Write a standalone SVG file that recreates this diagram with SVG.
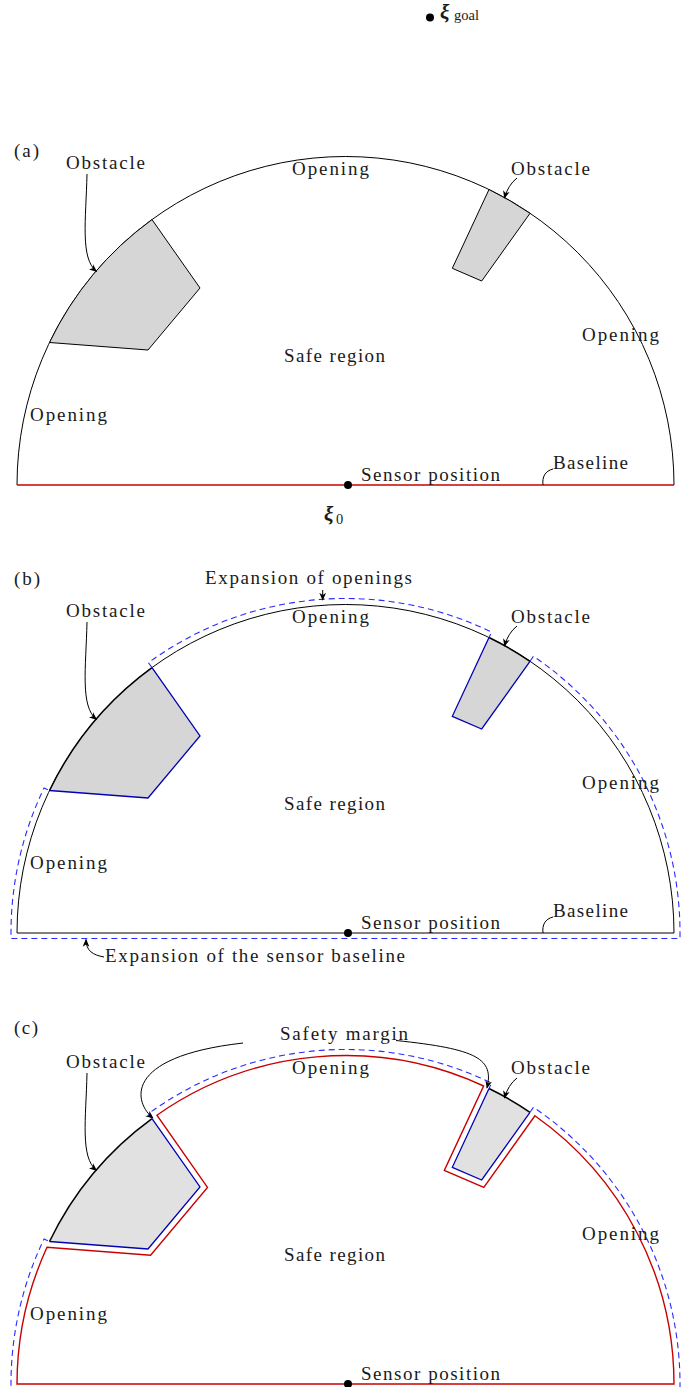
<svg xmlns="http://www.w3.org/2000/svg" width="691" height="1387" viewBox="0 0 691 1387">
<style>
text{font-family:"Liberation Serif","Times New Roman",serif;font-size:19px;fill:#1a1a1a}
.math{font-weight:bold;font-style:italic;font-size:21px}
.sub{font-size:14.5px}
.arc{fill:none;stroke:#000;stroke-width:1}
.red{fill:none;stroke:#c80000;stroke-width:1.4}
.obA{fill:#d6d6d6;stroke:#000;stroke-width:1}
.obFill{fill:#d6d6d6;stroke:none}
.obFillC{fill:#e1e1e1;stroke:none}
.obArc{fill:none;stroke:#000;stroke-width:1.5}
.obEdge{fill:none;stroke:#0000b4;stroke-width:1.3}
.dash{fill:none;stroke:#2a2aff;stroke-width:1.1;stroke-dasharray:6 4}
.lead{fill:none;stroke:#000;stroke-width:1}
.arr{marker-end:url(#ah)}
</style>
<defs>
<marker id="ah" viewBox="0 0 10 10" refX="9" refY="5" markerWidth="8" markerHeight="8" orient="auto" markerUnits="userSpaceOnUse">
<path d="M0,0.8 L10,5 L0,9.2 L2.8,5 Z" fill="#000"/>
</marker>
<path id="ob1" d="M 49.5 342.5 A 328.5 328.5 0 0 1 152 219.6 L 200 288 L 148 350 Z"/>
<path id="ob2" d="M 489 189.5 A 328.5 328.5 0 0 1 530 213.3 L 481.7 281 L 452.3 268.3 Z"/>
<path id="ob1arc" d="M 49.5 342.5 A 328.5 328.5 0 0 1 152 219.6"/>
<path id="ob2arc" d="M 489 189.5 A 328.5 328.5 0 0 1 530 213.3"/>
<path id="ob1edge" d="M 152 219.6 L 200 288 L 148 350 L 49.5 342.5"/>
<path id="ob2edge" d="M 530 213.3 L 481.7 281 L 452.3 268.3 L 489 189.5"/>
<path id="expand" d="M 152 219.6 L 148.4 214.7 A 334.5 334.5 0 0 1 491.6 184.1 L 489 189.5 M 530 213.3 L 533.5 208.3 A 334.5 334.5 0 0 1 680 485 L 680 490.5 L 11 490.5 L 11 485 A 334.5 334.5 0 0 1 44.1 339.9 L 49.5 342.5"/>
</defs>

<!-- goal point -->
<g id="goal">
<circle cx="430" cy="17.5" r="4" fill="#000"/>
<text x="440" y="19" class="math">ξ</text><text x="454" y="20" class="sub">goal</text>
</g>

<!-- Panel (a) -->
<g id="panel-a">
<text x="14" y="157" textLength="25" lengthAdjust="spacing">(a)</text>
<g id="a-region"><path class="arc" d="M 17 485 A 328.5 328.5 0 0 1 674 485"/><line class="red" x1="17" y1="485" x2="674" y2="485"/></g>
<g id="a-obstacle1"><use href="#ob1" class="obA"/></g>
<g id="a-obstacle2"><use href="#ob2" class="obA"/></g>
<g id="a-sensor"><circle cx="348" cy="485" r="4" fill="#000"/><text x="361" y="481" textLength="139" lengthAdjust="spacing">Sensor position</text>
<text x="324" y="521" class="math">ξ</text><text x="336" y="524" class="sub">0</text></g>
<g id="a-labels">
<text x="66" y="169" textLength="79" lengthAdjust="spacing">Obstacle</text>
<text x="292" y="175" textLength="77" lengthAdjust="spacing">Opening</text>
<text x="511" y="175" textLength="79" lengthAdjust="spacing">Obstacle</text>
<text x="582" y="341" textLength="77" lengthAdjust="spacing">Opening</text>
<text x="284" y="362" textLength="101" lengthAdjust="spacing">Safe region</text>
<text x="30" y="421" textLength="77" lengthAdjust="spacing">Opening</text>
<text x="553" y="469" textLength="75" lengthAdjust="spacing">Baseline</text>
</g>
<g id="a-connectors">
<path class="lead arr" d="M 87 174 C 86 220, 80 258, 96.5 271.5"/>
<path class="lead arr" d="M 517 178 Q 508 185 504.5 198"/>
<path class="lead" d="M 553 469 C 545 471, 542 477, 543 485"/>
</g>
</g>

<!-- Panel (b) -->
<text x="14" y="585" textLength="26" lengthAdjust="spacing">(b)</text>
<g id="panel-b" transform="translate(0,448)">
<g id="b-region"><path class="arc" d="M 17 485 A 328.5 328.5 0 0 1 674 485 Z"/></g>
<g id="b-obstacle1"><use href="#ob1" class="obFill"/><use href="#ob1arc" class="obArc"/><use href="#ob1edge" class="obEdge"/></g>
<g id="b-obstacle2"><use href="#ob2" class="obFill"/><use href="#ob2arc" class="obArc"/><use href="#ob2edge" class="obEdge"/></g>
<g id="b-expansion"><use href="#expand" class="dash"/></g>
<g id="b-sensor"><circle cx="348" cy="485" r="4" fill="#000"/><text x="361" y="481" textLength="139" lengthAdjust="spacing">Sensor position</text></g>
<g id="b-labels">
<text x="66" y="169" textLength="79" lengthAdjust="spacing">Obstacle</text>
<text x="292" y="175" textLength="77" lengthAdjust="spacing">Opening</text>
<text x="511" y="175" textLength="79" lengthAdjust="spacing">Obstacle</text>
<text x="582" y="341" textLength="77" lengthAdjust="spacing">Opening</text>
<text x="284" y="362" textLength="101" lengthAdjust="spacing">Safe region</text>
<text x="30" y="421" textLength="77" lengthAdjust="spacing">Opening</text>
<text x="553" y="469" textLength="75" lengthAdjust="spacing">Baseline</text>
<text x="205" y="136" textLength="207" lengthAdjust="spacing">Expansion of openings</text>
<text x="105" y="514" textLength="300" lengthAdjust="spacing">Expansion of the sensor baseline</text>
</g>
<g id="b-connectors">
<path class="lead arr" d="M 87 174 C 86 220, 80 258, 96.5 271.5"/>
<path class="lead arr" d="M 517 178 Q 508 185 504.5 198"/>
<path class="lead" d="M 553 469 C 545 471, 542 477, 543 485"/>
<path class="lead arr" d="M 322.7 142 L 322.7 152"/>
<path class="lead arr" d="M 104 509 C 93 507, 86 503, 86 491.5"/>
</g>
</g>

<!-- Panel (c) -->
<text x="14" y="1034" textLength="24" lengthAdjust="spacing">(c)</text>
<g id="panel-c" transform="translate(0,899)">
<g id="c-obstacle1"><use href="#ob1" class="obFillC"/><use href="#ob1arc" class="obArc"/><use href="#ob1edge" class="obEdge"/></g>
<g id="c-obstacle2"><use href="#ob2" class="obFillC"/><use href="#ob2arc" class="obArc"/><use href="#ob2edge" class="obEdge"/></g>
<g id="c-safe-region"><path class="red" d="M 674 485 L 17 485 A 328.5 328.5 0 0 1 47 348.3 L 150.6 356.2 L 207.5 288.4 L 156.9 216.2 A 328.5 328.5 0 0 1 483.6 187 L 444.3 271.4 L 483.8 288.4 L 534.9 216.8 A 328.5 328.5 0 0 1 674 485 Z"/></g>
<g id="c-expansion"><use href="#expand" class="dash"/></g>
<g id="c-sensor"><circle cx="348" cy="485" r="4" fill="#000"/><text x="361" y="481" textLength="139" lengthAdjust="spacing">Sensor position</text></g>
<g id="c-labels">
<text x="66" y="169" textLength="79" lengthAdjust="spacing">Obstacle</text>
<text x="292" y="175" textLength="77" lengthAdjust="spacing">Opening</text>
<text x="511" y="175" textLength="79" lengthAdjust="spacing">Obstacle</text>
<text x="582" y="341" textLength="77" lengthAdjust="spacing">Opening</text>
<text x="284" y="362" textLength="101" lengthAdjust="spacing">Safe region</text>
<text x="30" y="421" textLength="77" lengthAdjust="spacing">Opening</text>
<text x="280" y="141" textLength="128" lengthAdjust="spacing">Safety margin</text>
</g>
<g id="c-connectors">
<path class="lead arr" d="M 87 174 C 86 220, 80 258, 96.5 271.5"/>
<path class="lead arr" d="M 517 179 Q 508 186 504.5 199"/>
<path class="lead arr" d="M 243 144 C 120 158, 135 205, 153 219"/>
<path class="lead arr" d="M 396 141.5 C 478 150, 494 160, 487 189"/>
</g>
</g>
</svg>
